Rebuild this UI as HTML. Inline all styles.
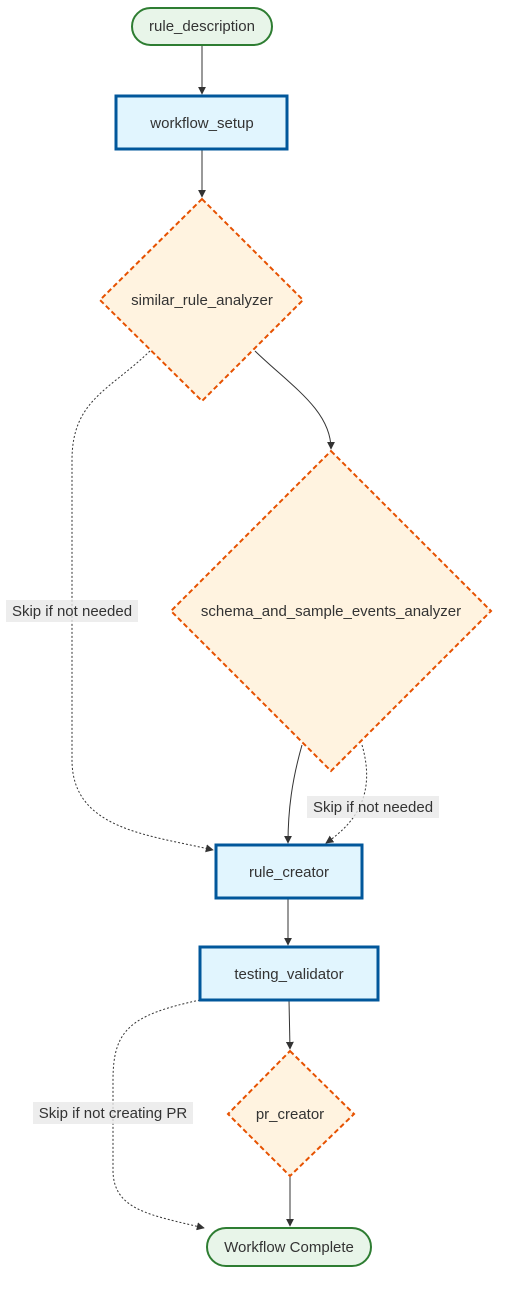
<!DOCTYPE html>
<html><head><meta charset="utf-8"><style>
html,body{margin:0;padding:0;background:#fff;}
svg{display:block;font-family:"Liberation Sans",sans-serif;}
</style></head><body>
<svg width="507" height="1294" viewBox="0 0 507 1294">
<defs>
<marker id="arr" viewBox="0 0 10 10" refX="9" refY="5" markerWidth="8" markerHeight="8" orient="auto"><path d="M0,0L10,5L0,10z" fill="#333"/></marker>
</defs>
<g fill="none" stroke="#333" stroke-width="1">
<path d="M202,45L202,94" marker-end="url(#arr)"/>
<path d="M202,149L202,197" marker-end="url(#arr)"/>
<path d="M255,351C290,385 331,410 331,449" marker-end="url(#arr)"/>
<path stroke-dasharray="2,2" d="M150,351C110,390 72,400 72,460L72,760C72,830 150,835 213,850" marker-end="url(#arr)"/>
<path d="M302,745C292,780 288,810 288,843" marker-end="url(#arr)"/>
<path stroke-dasharray="2,2" d="M362,745C375,790 360,820 326,843" marker-end="url(#arr)"/>
<path d="M288,898L288,945" marker-end="url(#arr)"/>
<path d="M289,1000L290,1049" marker-end="url(#arr)"/>
<path stroke-dasharray="2,2" d="M200,1000C130,1015 113,1030 113,1080L113,1170C113,1210 150,1215 204,1228" marker-end="url(#arr)"/>
<path d="M290,1176L290,1226" marker-end="url(#arr)"/>
</g>
<g font-size="15" fill="#333" text-anchor="middle">
<g><rect x="6" y="600" width="132" height="22" fill="#e8e8e8" opacity="0.8"/><text x="72" y="616">Skip if not needed</text></g>
<g><rect x="307" y="796" width="132" height="22" fill="#e8e8e8" opacity="0.8"/><text x="373" y="812">Skip if not needed</text></g>
<g><rect x="33" y="1102" width="160" height="22" fill="#e8e8e8" opacity="0.8"/><text x="113" y="1118">Skip if not creating PR</text></g>
</g>
<g font-size="15" text-anchor="middle">
<g><rect x="132" y="8" width="140" height="37" rx="18.5" fill="#e8f5e9" stroke="#2e7d32" stroke-width="2"/><text x="202" y="31" fill="#333">rule_description</text></g>
<g><rect x="116" y="96" width="171" height="53" fill="#e1f5fe" stroke="#01579b" stroke-width="3"/><text x="202" y="128" fill="#333">workflow_setup</text></g>
<g><polygon points="202,199 303,300 202,401 100,300" fill="#fff3e0" stroke="#e65100" stroke-width="2" stroke-dasharray="5,3"/><text x="202" y="305" fill="#333">similar_rule_analyzer</text></g>
<g><polygon points="331,451 491,611 331,771 171,611" fill="#fff3e0" stroke="#e65100" stroke-width="2" stroke-dasharray="5,3"/><text x="331" y="616" fill="#333">schema_and_sample_events_analyzer</text></g>
<g><rect x="216" y="845" width="146" height="53" fill="#e1f5fe" stroke="#01579b" stroke-width="3"/><text x="289" y="877" fill="#333">rule_creator</text></g>
<g><rect x="200" y="947" width="178" height="53" fill="#e1f5fe" stroke="#01579b" stroke-width="3"/><text x="289" y="979" fill="#333">testing_validator</text></g>
<g><polygon points="290,1051 354,1114 290,1176 228,1114" fill="#fff3e0" stroke="#e65100" stroke-width="2" stroke-dasharray="5,3"/><text x="290" y="1119" fill="#333">pr_creator</text></g>
<g><rect x="207" y="1228" width="164" height="38" rx="19" fill="#e8f5e9" stroke="#2e7d32" stroke-width="2"/><text x="289" y="1252" fill="#333">Workflow Complete</text></g>
</g>
</svg>
</body></html>
